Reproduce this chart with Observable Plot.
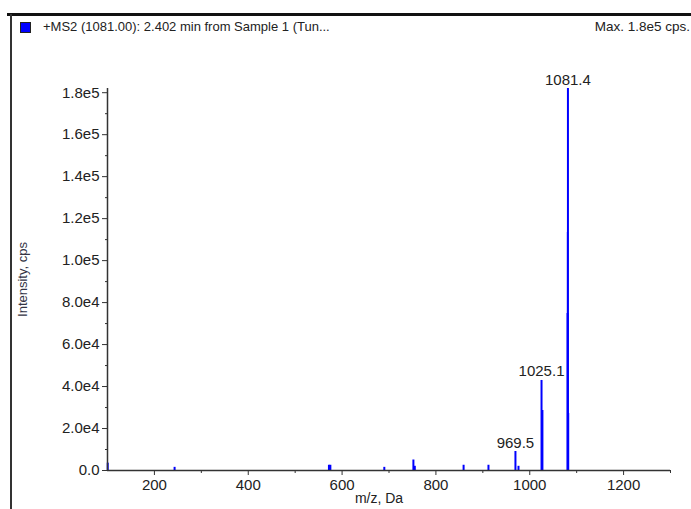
<!DOCTYPE html>
<html>
<head>
<meta charset="utf-8">
<script src="https://cdn.jsdelivr.net/npm/d3@7"></script>
<script src="https://cdn.jsdelivr.net/npm/@observablehq/plot@0.6"></script>
<style>
  html, body { margin: 0; padding: 0; background: #fff; }
  #wrap { position: relative; width: 691px; height: 509px; overflow: hidden; background: #fff;
          font-family: "Liberation Sans", Arial, sans-serif; color: #222; }
  #wrap svg { position: absolute; left: 0; top: 0; }
  .frameTop { position: absolute; left: 7px; top: 13px; width: 690px; height: 3px; background: #111; }
  .frameLeft { position: absolute; left: 10px; top: 14px; width: 2px; height: 500px; background: #333; }
  .swatch { position: absolute; left: 20px; top: 22px; width: 9px; height: 9px; background: #0000ff; border: 1px solid #222; }
  .title { position: absolute; left: 43px; top: 19px; font-size: 13px; white-space: nowrap; }
  .max { position: absolute; right: 1px; top: 19px; font-size: 13.5px; white-space: nowrap; }
</style>
</head>
<body>
<div id="wrap">
  <div class="frameTop"></div>
  <div class="frameLeft"></div>
  <div class="swatch"></div>
  <div class="title" id="title"></div>
  <div class="max" id="max"></div>
</div>
<script>
// ---- data ----
const titleText = "+MS2 (1081.00): 2.402 min from Sample 1 (Tun...";
const maxText = "Max. 1.8e5 cps.";
const peakMz =        [100.5, 243, 572, 575, 690, 752, 755, 859, 912, 969.5, 976, 1025.1, 1027, 1080.6, 1081.4, 1082.0];
const peakIntensity = [3500, 1500, 2500, 2500, 1500, 5000, 2000, 2500, 2500, 9050, 2000, 42900, 28600, 74800, 182000, 27200];
const shadowMz = [1080.6];
const shadowIntensity = [113400];
const labelMz = [969.5, 1025.1, 1081.4];
const labelIntensity = [9050, 42900, 182000];
const xTicks = [200, 400, 600, 800, 1000, 1200];
const xMinorTicks = [300, 500, 700, 900, 1100, 1300];
const yTicks = [0, 20000, 40000, 60000, 80000, 100000, 120000, 140000, 160000, 180000];
const yMinorTicks = [10000, 30000, 50000, 70000, 90000, 110000, 130000, 150000, 170000];
const xLabel = "m/z, Da";
const yLabel = "Intensity, cps";

document.getElementById("title").textContent = titleText;
document.getElementById("max").textContent = maxText;

const peaks = peakMz.map((m, i) => ({mz: m, intensity: peakIntensity[i]}));
const shadows = shadowMz.map((m, i) => ({mz: m, intensity: shadowIntensity[i]}));
const labels = labelMz.map((m, i) => ({mz: m, intensity: labelIntensity[i], text: m.toFixed(1)}));

const fmtY = d => d === 0 ? "0.0" : d3.format(".1e")(d).replace("+", "");

const chart = Plot.plot({
  width: 691,
  height: 509,
  marginLeft: 107,
  marginRight: 21,
  marginTop: 88,
  marginBottom: 39,
  style: {fontFamily: "'Liberation Sans', Arial, sans-serif", fontSize: "15px", color: "#222", background: "transparent"},
  x: {domain: [100, 1300]},
  y: {domain: [0, 182000]},
  marks: [
    Plot.axisX({ticks: xTicks, tickSize: 5, tickPadding: 4, tickFormat: d => String(d), label: null, stroke: "#333", fontSize: 15}),
    Plot.axisX({ticks: xMinorTicks, tickSize: 3, tickFormat: () => "", label: null, stroke: "#333"}),
    Plot.axisY({ticks: yTicks, tickSize: 5, tickPadding: 3, tickFormat: fmtY, label: null, stroke: "#333", fontSize: 15}),
    Plot.axisY({ticks: yMinorTicks, tickSize: 2, tickFormat: () => "", label: null, stroke: "#333"}),
    Plot.ruleX(shadows, {x: "mz", y1: 0, y2: "intensity", stroke: "#a8a8ff", strokeWidth: 2}),
    Plot.ruleX(peaks, {x: "mz", y1: 0, y2: "intensity", stroke: "#0000ff", strokeWidth: 2}),
    Plot.ruleY([0], {stroke: "#333", strokeWidth: 1.5}),
    Plot.ruleX([100], {stroke: "#333", strokeWidth: 1.5}),
    Plot.text(labels, {x: "mz", y: "intensity", text: "text", lineAnchor: "bottom", dy: -4, fontSize: 15, fill: "#222"}),
    Plot.text([xLabel], {frameAnchor: "bottom", textAnchor: "middle", lineAnchor: "top", dy: 23, dx: -10, fontSize: 14, fill: "#222"}),
    Plot.text([yLabel], {frameAnchor: "left", textAnchor: "middle", rotate: -90, dx: -85, fontSize: 13, fill: "#334"})
  ]
});
document.getElementById("wrap").appendChild(chart);
</script>
</body>
</html>
